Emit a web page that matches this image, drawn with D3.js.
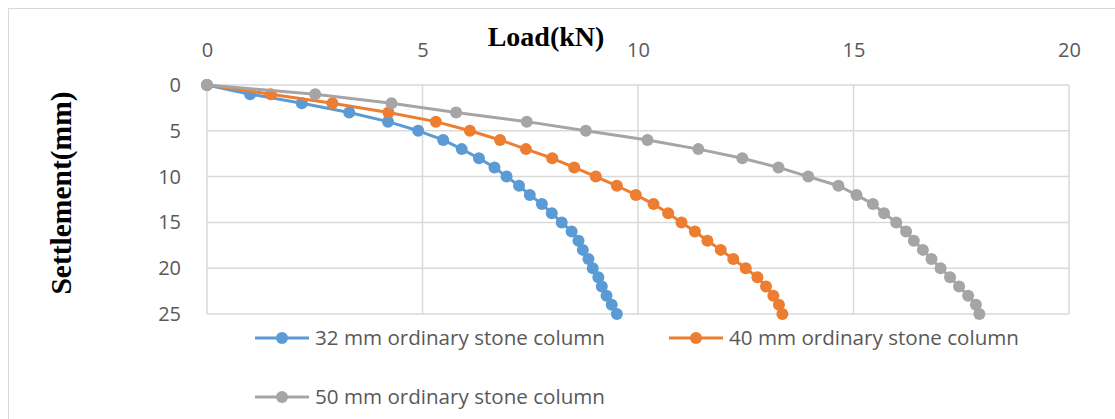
<!DOCTYPE html>
<html>
<head>
<meta charset="utf-8">
<script src="https://cdn.jsdelivr.net/npm/d3@7"></script>
<style>
  html, body { margin: 0; padding: 0; background: #fff; }
  svg { display: block; }
</style>
</head>
<body>
<svg id="chart" width="1115" height="419"></svg>
<script>
// ---- data ----
const settlement = [0,1,2,3,4,5,6,7,8,9,10,11,12,13,14,15,16,17,18,19,20,21,22,23,24,25];
const load32 = [0,1.0,2.2,3.3,4.2,4.9,5.48,5.91,6.31,6.67,6.95,7.24,7.49,7.77,8.0,8.23,8.46,8.62,8.72,8.85,8.95,9.08,9.16,9.27,9.39,9.51];
const load40 = [0,1.48,2.91,4.21,5.31,6.10,6.80,7.40,8.01,8.52,9.02,9.51,9.95,10.36,10.70,11.01,11.32,11.61,11.92,12.21,12.50,12.77,12.97,13.14,13.27,13.35];
const load50 = [0,2.51,4.28,5.78,7.42,8.79,10.22,11.40,12.42,13.26,13.95,14.65,15.07,15.45,15.71,15.99,16.22,16.40,16.61,16.81,17.02,17.24,17.45,17.66,17.84,17.92];
const seriesNames = ["32 mm ordinary stone column","40 mm ordinary stone column","50 mm ordinary stone column"];
const seriesColors = ["#5B9BD5","#ED7D31","#A5A5A5"];
const xTicks = [0,5,10,15,20];
const yTicks = [0,5,10,15,20,25];
const xTitle = "Load(kN)";
const yTitle = "Settlement(mm)";

(function () {
const series = [load32, load40, load50].map((vals, i) => ({
  name: seriesNames[i], color: seriesColors[i],
  points: vals.map((v, j) => ({x: v, y: settlement[j]}))
}));

const svg = d3.select("#chart");
const pLeft = 207, pRight = 1069, pTop = 85, pBottom = 314;

const x = d3.scaleLinear().domain([0, 20]).range([pLeft, pRight]);
const y = d3.scaleLinear().domain([0, 25]).range([pTop, pBottom]);

// outer chart border
svg.append("rect").attr("x", 8.5).attr("y", 8.5).attr("width", 1120).attr("height", 420)
  .attr("fill", "#fff").attr("stroke", "#d9d9d9").attr("stroke-width", 1);

const tickFont = "'Open Sans', 'Liberation Sans', sans-serif";

// gridlines
const grid = svg.append("g");
grid.selectAll("line.v").data(xTicks).enter().append("line").attr("class", "v")
  .attr("x1", d => x(d)).attr("x2", d => x(d)).attr("y1", pTop).attr("y2", pBottom)
  .attr("stroke", "#d9d9d9").attr("stroke-width", 1.5);
grid.selectAll("line.h").data(yTicks).enter().append("line").attr("class", "h")
  .attr("y1", d => y(d)).attr("y2", d => y(d)).attr("x1", pLeft).attr("x2", pRight)
  .attr("stroke", "#d9d9d9").attr("stroke-width", 1.5);

// axes (labels only)
const xAxis = d3.axisTop(x).tickValues(xTicks).tickSize(0).tickPadding(0);
const gx = svg.append("g").attr("transform", "translate(0,57)").call(xAxis);
gx.select(".domain").remove();
gx.selectAll("text").attr("font-family", tickFont).attr("font-size", 20).attr("fill", "#595959");

const yAxis = d3.axisLeft(y).tickValues(yTicks).tickSize(0).tickPadding(0);
const gy = svg.append("g").attr("transform", "translate(181,0)").call(yAxis);
gy.select(".domain").remove();
gy.selectAll("text").attr("font-family", tickFont).attr("font-size", 20).attr("fill", "#595959");

// titles
svg.append("text").attr("x", 546).attr("y", 46).attr("text-anchor", "middle")
  .attr("font-family", "'Liberation Serif', 'Times New Roman', serif").attr("font-weight", "bold")
  .attr("font-size", 28).attr("fill", "#000").text(xTitle);
svg.append("text").attr("transform", "translate(71,193) rotate(-90)").attr("text-anchor", "middle")
  .attr("font-family", "'Liberation Serif', 'Times New Roman', serif").attr("font-weight", "bold")
  .attr("font-size", 29.5).attr("fill", "#000").text(yTitle);

// lines and markers
const line = d3.line().x(d => x(d.x)).y(d => y(d.y));
series.forEach(s => {
  const g = svg.append("g");
  g.append("path").datum(s.points).attr("d", line).attr("fill", "none")
    .attr("stroke", s.color).attr("stroke-width", 3).attr("stroke-linejoin", "round");
  g.selectAll("circle").data(s.points).enter().append("circle")
    .attr("cx", d => x(d.x)).attr("cy", d => y(d.y)).attr("r", 6)
    .attr("fill", s.color);
});

// legend
const legendPos = [{x: 255, y: 338}, {x: 669, y: 338}, {x: 255, y: 397}];
series.forEach((s, i) => {
  const p = legendPos[i];
  const g = svg.append("g").attr("transform", `translate(${p.x},${p.y})`);
  g.append("line").attr("x1", 0).attr("x2", 54).attr("y1", 0).attr("y2", 0)
    .attr("stroke", s.color).attr("stroke-width", 3);
  g.append("circle").attr("cx", 27).attr("cy", 0).attr("r", 6).attr("fill", s.color);
  g.append("text").attr("x", 60).attr("y", 0).attr("dy", "0.35em")
    .attr("font-family", tickFont).attr("font-size", 20.6).attr("fill", "#595959").text(s.name);
});
})();
</script>
</body>
</html>
